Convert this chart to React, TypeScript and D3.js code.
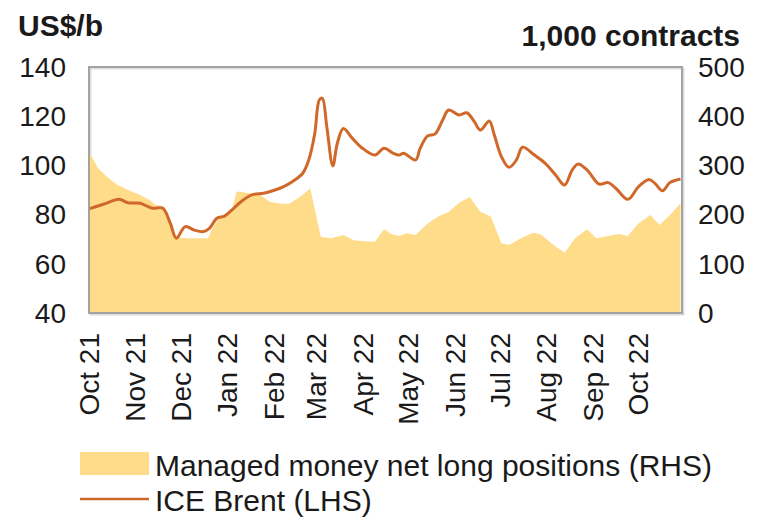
import React from 'react';
import * as d3 from 'd3';

const monthLabels = ['Oct 21','Nov 21','Dec 21','Jan 22','Feb 22','Mar 22','Apr 22','May 22','Jun 22','Jul 22','Aug 22','Sep 22','Oct 22'];
const monthDates = ['2021-10-01','2021-11-01','2021-12-01','2022-01-01','2022-02-01','2022-03-01','2022-04-01','2022-05-01','2022-06-01','2022-07-01','2022-08-01','2022-09-01','2022-10-01'];
const leftTicks = [40, 60, 80, 100, 120, 140];
const rightTicks = [0, 100, 200, 300, 400, 500];

const brentDates = ['2021-10-01','2021-10-11','2021-10-21','2021-10-27','2021-11-04','2021-11-12','2021-11-19','2021-11-24','2021-11-28','2021-12-04','2021-12-10','2021-12-16','2021-12-20','2021-12-25','2021-12-30','2022-01-04','2022-01-10','2022-01-17','2022-01-25','2022-01-31','2022-02-07','2022-02-13','2022-02-20','2022-02-24','2022-02-28','2022-03-03','2022-03-05','2022-03-08','2022-03-12','2022-03-15','2022-03-19','2022-03-25','2022-03-31','2022-04-09','2022-04-15','2022-04-21','2022-04-25','2022-04-28','2022-05-06','2022-05-09','2022-05-14','2022-05-19','2022-05-24','2022-05-28','2022-06-04','2022-06-09','2022-06-14','2022-06-18','2022-06-24','2022-06-27','2022-07-02','2022-07-07','2022-07-12','2022-07-16','2022-07-24','2022-07-31','2022-08-07','2022-08-13','2022-08-18','2022-08-22','2022-08-28','2022-09-05','2022-09-11','2022-09-16','2022-09-24','2022-10-01','2022-10-08','2022-10-12','2022-10-17','2022-10-22','2022-10-29'];
const brentValues = [82.3,84.3,86.2,84.8,84.6,82.6,82.6,76.5,70.4,75.1,73.7,73.1,74.4,78.5,79.4,81.9,85.2,88,88.7,89.7,91.3,93.4,96.8,102.2,113,126.6,127.3,115.7,99.8,109,115,111,107.3,104.2,107,105,104.2,104.9,102.2,106.9,112,112.8,118.5,122.5,120.5,121.4,117.8,114.4,118,113,103.6,99.2,102.2,107.4,104.2,100.9,96.1,92,98.1,100.6,98.1,92.4,93,90.7,86.2,91.3,94.3,92.7,89.7,93,94.5];

const mmDates = ['2021-10-01','2021-10-07','2021-10-14','2021-10-20','2021-10-27','2021-11-04','2021-11-10','2021-11-14','2021-11-20','2021-11-24','2021-11-28','2021-12-03','2021-12-19','2021-12-22','2021-12-26','2021-12-31','2022-01-04','2022-01-07','2022-01-09','2022-01-16','2022-01-23','2022-01-29','2022-02-05','2022-02-11','2022-02-18','2022-02-25','2022-03-04','2022-03-11','2022-03-19','2022-03-26','2022-04-02','2022-04-09','2022-04-15','2022-04-20','2022-04-25','2022-04-30','2022-05-06','2022-05-14','2022-05-21','2022-05-28','2022-06-04','2022-06-11','2022-06-18','2022-06-25','2022-07-02','2022-07-07','2022-07-15','2022-07-23','2022-07-28','2022-08-07','2022-08-13','2022-08-20','2022-08-28','2022-09-03','2022-09-11','2022-09-18','2022-09-24','2022-10-01','2022-10-09','2022-10-15','2022-10-22','2022-10-29'];
const mmValues = [328,294,274,260,250,240,230,220,216,185,155,152,152,172,190,197,210,246,247,243,240,226,222,222,236,253,155,152,158.5,148,146,145,170,160.6,156.5,162,158.5,182,196,206,224,236,206,196,142,138,152,163,160,135,122.6,152,170,152,156.5,160.6,156.5,182,199,179,199,223];

const FONT = "'Liberation Sans', Arial, sans-serif";
const TEXT = '#1a1a1a';

export default function App() {
  const W = 761, H = 518;
  const L = 89, R = 682, T = 67, B = 313;
  const x = d3.scaleUtc().domain([new Date('2021-10-01'), new Date('2022-10-30')]).range([L, R]);
  const yL = d3.scaleLinear().domain([40, 140]).range([B, T]);
  const yR = d3.scaleLinear().domain([0, 500]).range([B, T]);

  const brent = brentDates.map((d, i) => ({ d: new Date(d), v: brentValues[i] }));
  const mm = mmDates.map((d, i) => ({ d: new Date(d), v: mmValues[i] }));

  const area = d3.area<{ d: Date; v: number }>().x(p => x(p.d)).y0(yR(0)).y1(p => yR(p.v));
  const line = d3.line<{ d: Date; v: number }>().x(p => x(p.d)).y(p => yL(p.v)).curve(d3.curveCatmullRom.alpha(0.5));

  return (
    <svg width={W} height={H} style={{ position: 'absolute', left: 0, top: 0, background: '#fff' }} fontFamily={FONT}>
      <defs>
        <clipPath id="plot"><rect x={L} y={T} width={R - L} height={B - T} /></clipPath>
      </defs>
      <text x={18} y={36} fontSize={30} fontWeight="bold" fill={TEXT}>US$/b</text>
      <text x={740} y={46} fontSize={30} fontWeight="bold" fill={TEXT} textAnchor="end">1,000 contracts</text>

      <rect x={L + 1.5} y={T + 1.5} width={R - L} height={B - T} fill="none" stroke="#dedede" strokeWidth={2} />
      <g clipPath="url(#plot)">
        <path d={area(mm) || ''} fill="#FFDC8A" />
        <path d={line(brent) || ''} fill="none" stroke="#D0682A" strokeWidth={3} />
      </g>
      <rect x={L} y={T} width={R - L} height={B - T} fill="none" stroke="#a3a3a3" strokeWidth={2} />

      {leftTicks.map(t => (
        <text key={'l' + t} x={66} y={yL(t)} dy="0.35em" fontSize={28} textAnchor="end" fill={TEXT}>{t}</text>
      ))}
      {rightTicks.map(t => (
        <text key={'r' + t} x={698} y={yR(t)} dy="0.35em" fontSize={28} textAnchor="start" fill={TEXT}>{t}</text>
      ))}
      {monthLabels.map((m, i) => {
        const px = x(new Date(monthDates[i]));
        return (
          <text key={m + i} transform={`translate(${px},333) rotate(-90)`} dy="0.35em" fontSize={28} textAnchor="end" fill={TEXT}>{m}</text>
        );
      })}

      <rect x={80} y={452} width={69} height={23} fill="#FFDC8A" />
      <text x={155} y={476} fontSize={30} fill={TEXT}>Managed money net long positions (RHS)</text>
      <line x1={80} x2={149} y1={499} y2={499} stroke="#D0682A" strokeWidth={2.5} />
      <text x={155} y={511} fontSize={30} fill={TEXT}>ICE Brent (LHS)</text>
    </svg>
  );
}
